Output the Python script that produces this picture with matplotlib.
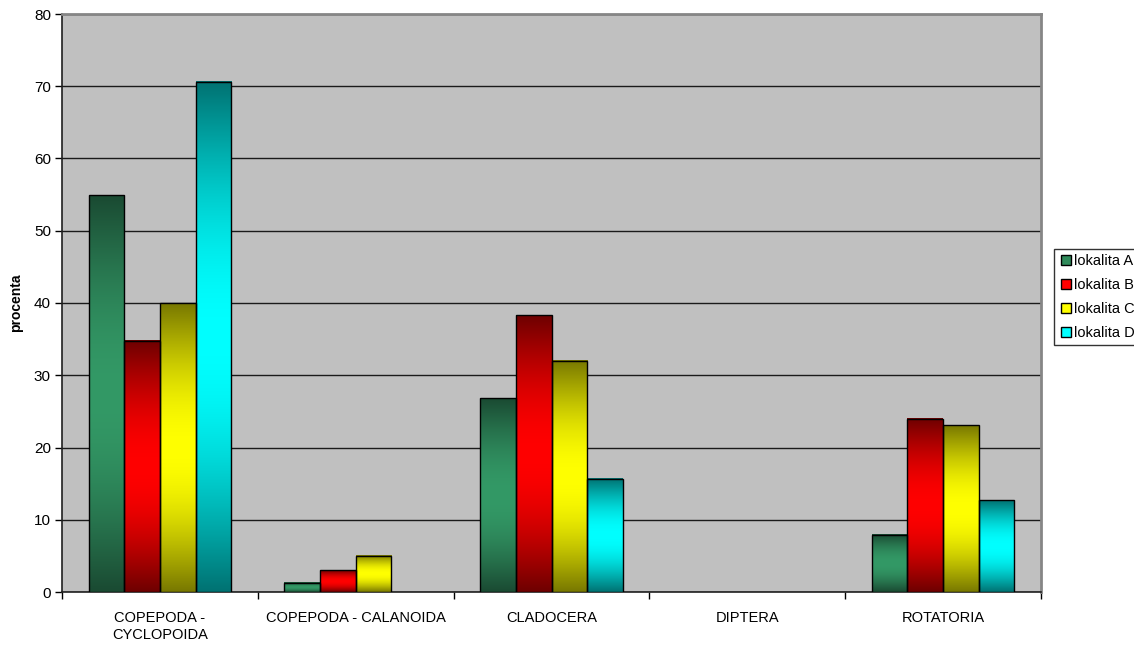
import numpy as np
import matplotlib.pyplot as plt
from matplotlib.colors import to_rgb
from matplotlib.lines import Line2D

plt.rcParams['font.family'] = ['Liberation Sans', 'DejaVu Sans']

categories = ['COPEPODA -\nCYCLOPOIDA', 'COPEPODA - CALANOIDA', 'CLADOCERA', 'DIPTERA', 'ROTATORIA']
series = ['lokalita A', 'lokalita B', 'lokalita C', 'lokalita D']
lok_a = [54.9, 1.3, 26.8, 0, 7.9]
lok_b = [34.8, 3.0, 38.3, 0, 24.0]
lok_c = [40.0, 5.0, 32.0, 0, 23.1]
lok_d = [70.6, 0, 15.7, 0, 12.7]
values = [lok_a, lok_b, lok_c, lok_d]

# (dark, bright) per series
shades = [('#1a4a32', '#339966'), ('#6e0000', '#ff0000'),
          ('#787800', '#ffff00'), ('#007272', '#00ffff')]
legend_colors = ['#2f8a5a', '#ff0000', '#ffff00', '#00ffff']

fig = plt.figure(figsize=(11.34, 6.49), dpi=100)
ax = fig.add_axes([62/1134, 1-592/649, 979/1134, 578/649])
ax.set_facecolor('#c0c0c0')

x = np.arange(len(categories))
w = 0.182
t = np.linspace(0, 1, 256)
f = 1 - np.abs(2*t - 1)
f = np.sin(f*np.pi/2)
for i, vals in enumerate(values):
    dark = np.array(to_rgb(shades[i][0]))
    bright = np.array(to_rgb(shades[i][1]))
    grad = dark[None, :] + (bright - dark)[None, :]*f[:, None]
    grad = grad[:, None, :]
    bars = ax.bar(x + (i - 1.5)*w, vals, w, facecolor='none',
                  edgecolor='black', linewidth=1.0, zorder=4)
    for b in bars:
        h = b.get_height()
        if h <= 0:
            b.set_linewidth(0)
            continue
        x0 = b.get_x()
        ax.imshow(grad, extent=[x0, x0 + b.get_width(), 0, h],
                  aspect='auto', origin='lower', zorder=3, interpolation='bilinear')

ax.set_xlim(-0.5, len(categories) - 0.5)
ax.set_ylim(0, 80)
ax.set_yticks(np.arange(0, 81, 10))
ax.yaxis.grid(True, color='#1a1a1a', linewidth=1.0)
ax.set_axisbelow(True)
ax.tick_params(axis='y', length=5, width=1, labelsize=11, pad=3)

ax.set_xticks(x)
ax.set_xticklabels(categories, fontsize=10.5)
ax.tick_params(axis='x', which='major', length=0, pad=14)
ax.set_xticks(np.arange(-0.5, len(categories)), minor=True)
ax.tick_params(axis='x', which='minor', length=5, width=1, direction='out')

for s in ['top', 'right']:
    ax.spines[s].set_color('#868686')
    ax.spines[s].set_linewidth(2)
for s in ['left', 'bottom']:
    ax.spines[s].set_color('#202020')
    ax.spines[s].set_linewidth(1.2)

ax.set_ylabel('procenta', fontsize=10, fontweight='bold', labelpad=8)

handles = [Line2D([], [], marker='s', linestyle='none', markersize=7,
                  markerfacecolor=c, markeredgecolor='black')
           for c in legend_colors]
leg = fig.legend(handles, series, loc='center left', bbox_to_anchor=(1054/1134, 1-297/649),
                 frameon=True, fancybox=False, edgecolor='black', fontsize=10.5,
                 handletextpad=0.1, borderpad=0.3, labelspacing=0.7, handlelength=1.0,
                 borderaxespad=0)
leg.get_frame().set_linewidth(1.0)

fig.savefig('out.png', dpi=100)
